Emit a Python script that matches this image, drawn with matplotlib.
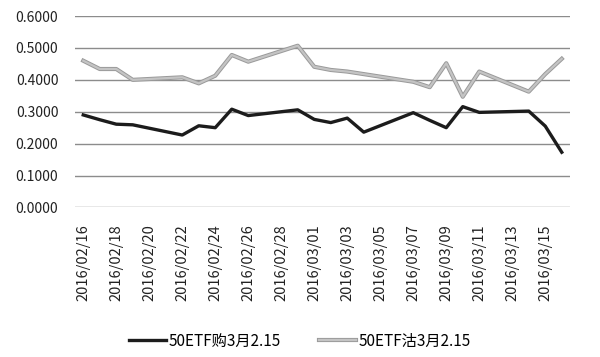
import pandas as pd
import matplotlib.pyplot as plt
import matplotlib.dates as mdates
import matplotlib.patheffects as pe

plt.rcParams['font.family'] = ['Noto Sans CJK SC', 'DejaVu Sans']

# trading days
dates = ["2016-02-16", "2016-02-17", "2016-02-18", "2016-02-19", "2016-02-22",
         "2016-02-23", "2016-02-24", "2016-02-25", "2016-02-26", "2016-02-29",
         "2016-03-01", "2016-03-02", "2016-03-03", "2016-03-04", "2016-03-07",
         "2016-03-08", "2016-03-09", "2016-03-10", "2016-03-11", "2016-03-14",
         "2016-03-15", "2016-03-16"]
call_vals = [0.290, 0.275, 0.261, 0.259, 0.227, 0.256, 0.250, 0.308, 0.288, 0.306,
             0.276, 0.266, 0.280, 0.236, 0.297, 0.273, 0.250, 0.316, 0.298, 0.302,
             0.255, 0.173]
put_vals = [0.460, 0.434, 0.434, 0.400, 0.408, 0.389, 0.413, 0.478, 0.457, 0.507,
            0.441, 0.431, 0.426, 0.418, 0.394, 0.377, 0.452, 0.347, 0.426, 0.363,
            0.418, 0.466]
call_name = "50ETF购3月2.15"
put_name = "50ETF沽3月2.15"

x = pd.to_datetime(dates)

fig = plt.figure(figsize=(6, 3.57), dpi=100)
ax = fig.add_axes([0.125, 0.419, 0.825, 0.536])

ax.plot(x, call_vals, color='#1c1c1c', lw=2.4, label=call_name, zorder=3)
ax.plot(x, put_vals, color='#c4c4c4', lw=1.6, label=put_name, zorder=3,
        path_effects=[pe.Stroke(linewidth=3.0, foreground='#9a9a9a'), pe.Normal()])

ax.set_ylim(0, 0.6)
ax.set_yticks([0, 0.1, 0.2, 0.3, 0.4, 0.5, 0.6])
ax.yaxis.set_major_formatter(plt.FuncFormatter(lambda v, p: f"{v:.4f}"))
ax.grid(axis='y', color='#8c8c8c', lw=1)
ax.set_axisbelow(True)

start = pd.Timestamp("2016-02-16")
end = pd.Timestamp("2016-03-16")
ax.set_xlim(mdates.date2num(start) - 0.5, mdates.date2num(end) + 0.5)
ticks = pd.date_range(start, end, freq='2D')
ax.set_xticks(ticks)
ax.xaxis.set_major_formatter(mdates.DateFormatter('%Y/%m/%d'))
plt.setp(ax.get_xticklabels(), rotation=90)

ax.tick_params(length=0, colors='#222222')
ax.tick_params(axis='y', pad=12, labelsize=10)
ax.tick_params(axis='x', pad=12, labelsize=10.5)
for s in ax.spines.values():
    s.set_visible(False)

fig.legend(loc='center', bbox_to_anchor=(0.5, 0.045), ncol=2, frameon=False,
           fontsize=11, handlelength=2.4, handletextpad=0.2, columnspacing=2.5)

fig.savefig('out.png')
